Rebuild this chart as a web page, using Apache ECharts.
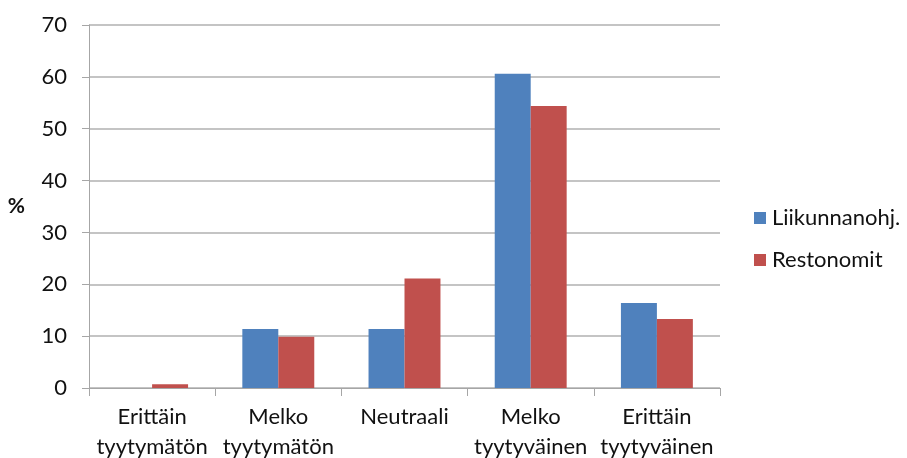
<!DOCTYPE html>
<html>
<head>
<meta charset="utf-8">
<script src="https://cdn.jsdelivr.net/npm/echarts@6/dist/echarts.min.js"></script>
<style>
html,body{margin:0;padding:0;background:#fff;}
#c{width:907px;height:458px;}
</style>
</head>
<body>
<div id="c"></div>
<script>
const categories = ['Erittäin\ntyytymätön', 'Melko\ntyytymätön', 'Neutraali', 'Melko\ntyytyväinen', 'Erittäin\ntyytyväinen'];
const seriesNames = ['Liikunnanohj.', 'Restonomit'];
const liikunnanohj = [0, 11.4, 11.4, 60.6, 16.4];
const restonomit = [0.7, 9.9, 21.1, 54.4, 13.3];
const yTicks = [0, 10, 20, 30, 40, 50, 60, 70];

const FONT = 'Lato';
const chart = echarts.init(document.getElementById('c'));
chart.setOption({
  animation: false,
  textStyle: { fontFamily: FONT },
  grid: { left: 89, right: 187, top: 25, bottom: 70, containLabel: false, outerBoundsMode: 'none' },
  legend: {
    orient: 'vertical',
    left: 754,
    top: 207,
    padding: 0,
    itemWidth: 12,
    itemHeight: 12,
    itemGap: 20,
    icon: 'rect',
    textStyle: { fontFamily: FONT, fontSize: 22, color: '#111', padding: [0, 0, 0, 1] },
    data: seriesNames
  },
  xAxis: {
    type: 'category',
    data: categories,
    axisLine: { lineStyle: { color: '#a6a6a6', width: 1 } },
    axisTick: { show: true, length: 8, alignWithLabel: false, lineStyle: { color: '#a6a6a6' } },
    axisLabel: { fontFamily: FONT, fontSize: 22, color: '#111', margin: 14, lineHeight: 30, interval: 0 }
  },
  yAxis: {
    type: 'value',
    min: yTicks[0],
    max: yTicks[yTicks.length - 1],
    interval: 10,
    name: '%',
    nameLocation: 'middle',
    nameRotate: 0,
    nameGap: 64,
    nameTextStyle: { fontFamily: FONT, fontSize: 21, fontWeight: 'bold', color: '#111', padding: [14, 0, 0, 0] },
    axisLine: { show: true, lineStyle: { color: '#a6a6a6', width: 1 } },
    axisTick: { show: true, length: 7, lineStyle: { color: '#a6a6a6' } },
    axisLabel: { fontFamily: FONT, fontSize: 22, color: '#111', margin: 22 },
    splitLine: { lineStyle: { color: '#b0b0b0', width: 1.5 } }
  },
  series: [
    { name: seriesNames[0], type: 'bar', data: liikunnanohj, barGap: '0%', barCategoryGap: '43%',
      itemStyle: { color: '#4F81BD' } },
    { name: seriesNames[1], type: 'bar', data: restonomit, barGap: '0%', barCategoryGap: '43%',
      itemStyle: { color: '#C0504D' } }
  ]
});
</script>
</body>
</html>
